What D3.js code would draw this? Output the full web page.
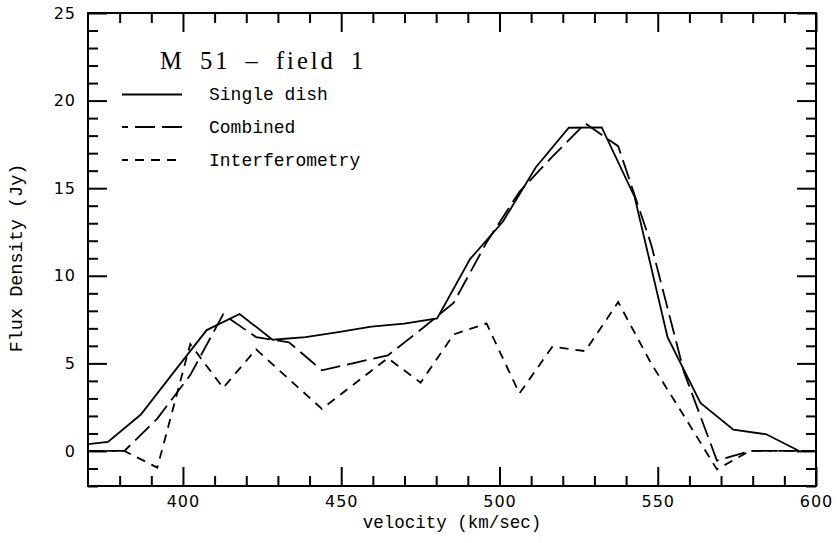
<!DOCTYPE html>
<html>
<head>
<meta charset="utf-8">
<script src="https://cdn.jsdelivr.net/npm/d3@7"></script>
<style>
  html, body { margin: 0; padding: 0; background: #fff; }
  svg { display: block; }
</style>
</head>
<body>
<svg id="chart" width="838" height="543"></svg>
<script>
// ---------- data ----------
const singleVel = [365.9, 376.3, 386.7, 397.1, 407.5, 417.9, 428.3, 438.7, 449.1, 459.5, 469.9, 480.3,
                   490.7, 501.1, 511.5, 521.9, 532.3, 542.7, 553.1, 563.5, 573.9, 584.3, 594.7];
const singleFlux = [0.30, 0.52, 2.08, 4.5, 6.9, 7.82, 6.35, 6.5, 6.78, 7.1, 7.27, 7.57,
                    10.95, 13.1, 16.2, 18.45, 18.47, 14.5, 6.5, 2.74, 1.22, 0.95, 0.0];

const interVel = [360.7, 371.1, 381.5, 391.9, 402.3, 412.7, 423.1, 433.5, 443.9, 454.3, 464.7, 475.1,
                  485.5, 495.9, 506.3, 516.7, 527.1, 537.5, 547.9, 558.3, 568.7, 579.1, 589.5, 599.9];
const combinedFlux = [0, 0, 0, 1.85, 4.33, 7.8, 6.5, 6.2, 4.6, 5.03, 5.45, 6.92,
                      8.45, 11.9, 14.8, 16.8, 18.7, 17.4, 11.8, 4.5, -0.55, 0, 0, 0];
const interFlux = [0, 0, 0, -0.95, 6.1, 3.6, 5.8, 4.1, 2.4, 3.85, 5.3, 3.9,
                   6.65, 7.28, 3.28, 5.95, 5.7, 8.5, 5.0, 2.0, -1.05, 0, 0, 0];

const xMajorTicks = [400, 450, 500, 550, 600];
const yMajorTicks = [0, 5, 10, 15, 20, 25];
const legendLabels = ["Single dish", "Combined", "Interferometry"];
const titleText = "M 51 \u2013 field 1";
const xLabel = "velocity (km/sec)";
const yLabel = "Flux Density (Jy)";

// ---------- layout ----------
const L = 88, R = 816, T = 13, B = 486;
const svg = d3.select("#chart");
const x = d3.scaleLinear().domain([370, 600]).range([L, R]);
const y = d3.scaleLinear().domain([-2, 25]).range([B, T]);

const xMinor = d3.range(380, 600, 10).filter(v => v % 50 !== 0);
const yMinor = d3.range(-2, 25, 1).filter(v => v % 5 !== 0);

svg.append("defs").append("clipPath").attr("id", "clip")
  .append("rect").attr("x", L).attr("y", T).attr("width", R - L).attr("height", B - T);

function styleAxis(g) {
  g.select(".domain").remove();
  g.selectAll(".tick line").attr("stroke", "#000").attr("stroke-width", 2);
  g.selectAll(".tick text").attr("fill", "#000")
    .style("font-family", "'DejaVu Sans', sans-serif").style("font-size", "16px")
    .attr("letter-spacing", "1px");
}

// bottom
svg.append("g").attr("transform", `translate(0,${B})`)
  .call(d3.axisBottom(x).tickValues(xMajorTicks).tickSize(-19).tickPadding(10).tickFormat(d3.format("d")))
  .call(styleAxis);
svg.append("g").attr("transform", `translate(0,${B})`)
  .call(d3.axisBottom(x).tickValues(xMinor).tickSize(-10).tickFormat(""))
  .call(styleAxis);
// top
svg.append("g").attr("transform", `translate(0,${T})`)
  .call(d3.axisTop(x).tickValues(xMajorTicks).tickSize(-19).tickFormat(""))
  .call(styleAxis);
svg.append("g").attr("transform", `translate(0,${T})`)
  .call(d3.axisTop(x).tickValues(xMinor).tickSize(-10).tickFormat(""))
  .call(styleAxis);
// left
svg.append("g").attr("transform", `translate(${L},0)`)
  .call(d3.axisLeft(y).tickValues(yMajorTicks).tickSize(-19).tickPadding(12).tickFormat(d3.format("d")))
  .call(styleAxis);
svg.append("g").attr("transform", `translate(${L},0)`)
  .call(d3.axisLeft(y).tickValues(yMinor).tickSize(-10).tickFormat(""))
  .call(styleAxis);
// right
svg.append("g").attr("transform", `translate(${R},0)`)
  .call(d3.axisRight(y).tickValues(yMajorTicks).tickSize(-19).tickFormat(""))
  .call(styleAxis);
svg.append("g").attr("transform", `translate(${R},0)`)
  .call(d3.axisRight(y).tickValues(yMinor).tickSize(-10).tickFormat(""))
  .call(styleAxis);

// frame
svg.append("rect").attr("x", L).attr("y", T).attr("width", R - L).attr("height", B - T)
  .attr("fill", "none").attr("stroke", "#000").attr("stroke-width", 2);

// ---------- lines ----------
const line = d3.line().x(d => x(d[0])).y(d => y(d[1]));
const series = [
  { vel: singleVel, flux: singleFlux, dash: null },
  { vel: interVel, flux: combinedFlux, dash: "20,7" },
  { vel: interVel, flux: interFlux, dash: "9,7" }
];
const plot = svg.append("g").attr("clip-path", "url(#clip)");
series.forEach(s => {
  plot.append("path")
    .datum(s.vel.map((v, i) => [v, s.flux[i]]))
    .attr("d", line)
    .attr("fill", "none").attr("stroke", "#000").attr("stroke-width", 1.8)
    .attr("stroke-linejoin", "miter")
    .attr("stroke-dasharray", s.dash);
});

// ---------- title & legend ----------
svg.append("text").attr("x", 160).attr("y", 69)
  .style("font-family", "'Liberation Serif', serif").style("font-size", "24.5px")
  .attr("letter-spacing", "3px").attr("word-spacing", "6px")
  .text(titleText);

const legY = [94.5, 127, 160];
legendLabels.forEach((lab, i) => {
  svg.append("line").attr("x1", 122).attr("x2", 182).attr("y1", legY[i]).attr("y2", legY[i])
    .attr("stroke", "#000").attr("stroke-width", 1.8)
    .attr("stroke-dasharray", series[i].dash)
    .attr("stroke-dashoffset", i === 1 ? 14 : (i === 2 ? 3 : 0));
  svg.append("text").attr("x", 209).attr("y", legY[i] + 5.5)
    .style("font-family", "'Liberation Mono', monospace").style("font-size", "18px")
    .style("font-weight", "500")
    .text(lab);
});

// ---------- axis titles ----------
svg.append("text").attr("x", (L + R) / 2).attr("y", 528).attr("text-anchor", "middle")
  .style("font-family", "'Liberation Mono', monospace").style("font-size", "17.5px")
  .text(xLabel);
svg.append("text").attr("transform", "translate(22,258) rotate(-90)").attr("text-anchor", "middle")
  .style("font-family", "'Liberation Mono', monospace").style("font-size", "18.5px")
  .text(yLabel);
</script>
</body>
</html>
